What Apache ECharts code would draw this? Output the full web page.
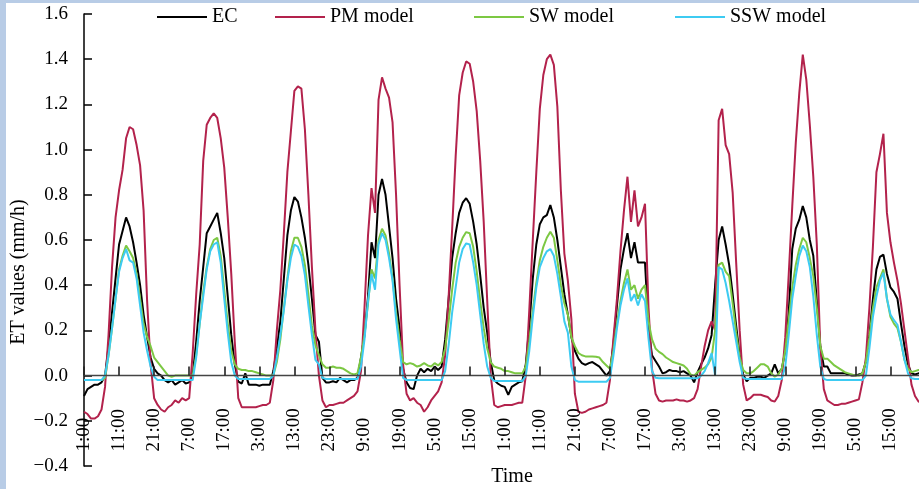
<!DOCTYPE html>
<html><head><meta charset="utf-8">
<script src="https://cdn.jsdelivr.net/npm/echarts@6/dist/echarts.min.js"></script>
<style>html,body{margin:0;padding:0;background:#fff}#c{width:919px;height:489px}</style>
</head><body><div id="c"></div>
<script>
// Hourly series starting at 1:00, 240 hours (10 days)
const startHour = 1;
const hourCount = 240;
const categories = Array.from({length: hourCount}, (_, i) => ((startHour + i) % 24) + ':00');

const seriesNames = ['EC', 'PM model', 'SW model', 'SSW model'];

const ecValues = [
-0.09,-0.06,-0.05,-0.04,-0.04,-0.03,0.0,0.13,0.28,0.43,0.58,0.64,0.70,0.66,0.59,0.50,0.40,0.27,0.17,0.08,0.03,0.01,0.0,-0.02,
-0.03,-0.02,-0.04,-0.03,-0.02,-0.035,-0.03,0.0,0.15,0.33,0.48,0.63,0.66,0.69,0.72,0.63,0.52,0.35,0.18,0.05,-0.027,-0.035,0.01,-0.04,
-0.04,-0.04,-0.045,-0.04,-0.04,-0.04,0.02,0.12,0.24,0.43,0.62,0.73,0.79,0.77,0.70,0.61,0.49,0.34,0.18,0.15,-0.01,-0.03,-0.03,-0.025,
-0.03,-0.01,-0.02,-0.03,-0.02,-0.02,-0.01,0.08,0.18,0.35,0.59,0.52,0.80,0.87,0.80,0.66,0.52,0.34,0.21,0.03,-0.03,-0.055,-0.06,0.0,
0.03,0.015,0.03,0.02,0.04,0.025,0.04,0.16,0.34,0.52,0.63,0.72,0.765,0.785,0.76,0.68,0.58,0.445,0.30,0.19,0.06,-0.02,-0.035,-0.045,
-0.05,-0.085,-0.05,-0.04,-0.03,-0.025,0.05,0.22,0.43,0.58,0.67,0.70,0.71,0.755,0.70,0.60,0.48,0.36,0.27,0.17,0.11,0.075,0.055,0.047,
0.055,0.06,0.05,0.04,0.02,0.0,0.02,0.14,0.31,0.47,0.56,0.63,0.52,0.59,0.50,0.50,0.50,0.21,0.09,0.065,0.04,0.01,0.015,0.025,
0.02,0.02,0.015,0.02,0.01,0.0,-0.03,0.015,0.05,0.08,0.12,0.18,0.40,0.60,0.66,0.58,0.49,0.36,0.22,0.09,0.005,-0.025,-0.01,-0.01,
-0.005,-0.005,-0.01,0.0,0.01,0.05,0.01,0.03,0.11,0.28,0.56,0.65,0.69,0.75,0.70,0.60,0.53,0.33,0.13,0.04,0.04,0.01,0.01,0.01,
0.01,0.01,0.005,0.0,0.0,0.005,0.01,0.06,0.18,0.34,0.47,0.525,0.535,0.45,0.39,0.37,0.34,0.23,0.13,0.05,0.01,0.005,0.01,0.01
];

const pmValues = [
-0.16,-0.17,-0.19,-0.19,-0.18,-0.15,-0.05,0.18,0.48,0.70,0.82,0.91,1.05,1.10,1.09,1.02,0.93,0.73,0.33,0.05,-0.10,-0.13,-0.15,-0.16,
-0.14,-0.13,-0.11,-0.12,-0.10,-0.11,-0.10,0.10,0.36,0.58,0.95,1.11,1.14,1.16,1.14,1.05,0.92,0.70,0.45,0.15,-0.10,-0.14,-0.14,-0.14,
-0.14,-0.14,-0.135,-0.13,-0.13,-0.12,-0.02,0.20,0.38,0.63,0.90,1.08,1.26,1.28,1.27,1.09,0.80,0.48,0.20,0.0,-0.11,-0.14,-0.13,-0.13,
-0.125,-0.12,-0.12,-0.11,-0.10,-0.09,-0.07,0.02,0.30,0.62,0.83,0.72,1.22,1.32,1.27,1.23,1.12,0.80,0.40,0.05,-0.08,-0.11,-0.10,-0.12,
-0.13,-0.16,-0.14,-0.11,-0.09,-0.07,-0.03,0.09,0.35,0.65,0.97,1.24,1.34,1.39,1.38,1.30,1.17,0.95,0.68,0.33,0.0,-0.13,-0.14,-0.135,
-0.13,-0.13,-0.13,-0.125,-0.12,-0.12,0.0,0.29,0.60,0.90,1.18,1.33,1.40,1.42,1.375,1.19,0.82,0.54,0.42,0.25,-0.08,-0.16,-0.165,-0.16,
-0.15,-0.145,-0.14,-0.135,-0.13,-0.12,-0.02,0.165,0.34,0.55,0.73,0.88,0.68,0.82,0.66,0.70,0.76,0.30,0.03,-0.08,-0.11,-0.115,-0.11,-0.11,
-0.11,-0.105,-0.11,-0.11,-0.115,-0.11,-0.10,-0.06,0.04,0.13,0.20,0.24,0.20,1.13,1.18,1.02,0.98,0.81,0.50,0.20,-0.04,-0.11,-0.10,-0.085,
-0.085,-0.085,-0.09,-0.095,-0.11,-0.115,-0.09,-0.02,0.17,0.45,0.75,1.03,1.25,1.42,1.31,1.11,0.88,0.58,0.12,-0.06,-0.11,-0.12,-0.13,-0.13,
-0.125,-0.125,-0.12,-0.115,-0.11,-0.105,-0.03,0.08,0.30,0.57,0.90,0.98,1.07,0.72,0.59,0.50,0.42,0.32,0.20,0.08,-0.04,-0.09,-0.115,-0.12
];

const swValues = [
-0.02,-0.02,-0.02,-0.02,-0.02,-0.02,-0.01,0.09,0.21,0.34,0.47,0.53,0.575,0.55,0.52,0.45,0.34,0.23,0.17,0.13,0.08,0.06,0.04,0.02,
0.0,-0.005,0.0,0.0,0.0,0.0,0.0,0.0,0.09,0.23,0.37,0.48,0.56,0.60,0.61,0.53,0.38,0.23,0.11,0.05,0.03,0.025,0.025,0.02,
0.02,0.015,0.01,0.005,0.0,0.0,0.0,0.06,0.16,0.30,0.43,0.55,0.61,0.61,0.57,0.49,0.36,0.22,0.135,0.09,0.05,0.035,0.035,0.04,
0.035,0.035,0.03,0.02,0.01,0.005,0.01,0.08,0.18,0.32,0.47,0.43,0.60,0.65,0.62,0.54,0.43,0.28,0.16,0.06,0.05,0.055,0.05,0.04,
0.045,0.055,0.045,0.04,0.055,0.045,0.06,0.12,0.24,0.38,0.50,0.57,0.61,0.635,0.63,0.57,0.46,0.33,0.21,0.12,0.06,0.04,0.035,0.03,
0.02,0.02,0.015,0.01,0.01,0.01,0.04,0.15,0.29,0.41,0.51,0.57,0.61,0.637,0.61,0.51,0.40,0.32,0.27,0.17,0.13,0.10,0.09,0.085,
0.085,0.085,0.083,0.08,0.06,0.045,0.03,0.11,0.23,0.33,0.41,0.47,0.38,0.40,0.34,0.38,0.40,0.24,0.16,0.12,0.105,0.095,0.08,0.07,
0.06,0.055,0.05,0.045,0.03,0.005,0.0,0.015,0.025,0.035,0.05,0.08,0.20,0.49,0.50,0.46,0.44,0.32,0.19,0.08,0.025,0.01,0.01,0.02,
0.035,0.05,0.05,0.04,0.01,-0.005,0.005,0.03,0.11,0.25,0.39,0.49,0.56,0.61,0.59,0.52,0.44,0.30,0.13,0.075,0.075,0.06,0.045,0.035,
0.025,0.015,0.01,0.005,0.0,0.0,0.01,0.06,0.17,0.30,0.39,0.43,0.47,0.34,0.26,0.23,0.21,0.15,0.07,0.03,0.015,0.02,0.025,0.025
];

const sswValues = [
-0.02,-0.02,-0.02,-0.02,-0.02,-0.02,0.0,0.09,0.21,0.34,0.46,0.52,0.56,0.51,0.50,0.43,0.31,0.19,0.11,0.04,-0.005,-0.02,-0.02,-0.02,
-0.02,-0.02,-0.02,-0.02,-0.02,-0.02,-0.02,-0.02,0.08,0.23,0.35,0.47,0.55,0.58,0.59,0.50,0.34,0.19,0.06,0.0,-0.015,-0.015,-0.015,-0.015,
-0.015,-0.015,-0.015,-0.015,-0.015,-0.015,0.0,0.08,0.18,0.29,0.42,0.52,0.58,0.57,0.53,0.445,0.31,0.18,0.07,0.05,-0.01,-0.015,-0.015,-0.015,
-0.015,-0.015,-0.015,-0.015,-0.015,-0.015,-0.015,0.04,0.16,0.33,0.45,0.38,0.58,0.63,0.60,0.52,0.42,0.25,0.12,-0.01,-0.02,-0.02,-0.02,-0.02,
-0.02,-0.02,-0.02,-0.02,-0.02,-0.02,-0.02,0.02,0.135,0.28,0.39,0.50,0.56,0.585,0.58,0.50,0.40,0.27,0.14,0.04,-0.01,-0.024,-0.024,-0.024,
-0.024,-0.024,-0.024,-0.024,-0.024,-0.024,0.0,0.11,0.26,0.39,0.48,0.52,0.55,0.56,0.53,0.45,0.35,0.24,0.19,0.04,-0.02,-0.027,-0.027,-0.027,
-0.027,-0.027,-0.027,-0.027,-0.027,-0.027,-0.01,0.09,0.21,0.31,0.38,0.43,0.33,0.36,0.31,0.36,0.33,0.165,0.02,-0.01,-0.012,-0.012,-0.012,-0.012,
-0.012,-0.012,-0.012,-0.012,-0.012,-0.012,-0.012,-0.012,0.0,0.02,0.055,0.10,0.0,0.48,0.47,0.41,0.33,0.24,0.15,0.06,-0.01,-0.015,-0.015,-0.015,
-0.015,-0.015,-0.015,-0.015,-0.015,-0.015,-0.015,-0.015,0.04,0.18,0.34,0.44,0.53,0.575,0.55,0.48,0.35,0.18,0.04,-0.015,-0.02,-0.02,-0.02,-0.02,
-0.02,-0.02,-0.02,-0.02,-0.02,-0.02,-0.02,0.0,0.12,0.26,0.35,0.42,0.455,0.34,0.27,0.245,0.225,0.15,0.07,0.01,-0.012,-0.015,-0.015,-0.015
];

const seriesColors = ['#000000', '#b3224c', '#7cc843', '#3dcbf2'];
const serif = '"Liberation Serif", "Times New Roman", serif';

// plot geometry: y axis from -0.4 (bottom) to 1.6 (top); the time axis sits on 0
const gridTop = 14, gridBottom = 23, chartH = 489;
const yMin = -0.4, yMax = 1.6;
const plotH = chartH - gridTop - gridBottom;
const zeroOffset = -plotH * (0 - yMin) / (yMax - yMin);

const chart = echarts.init(document.getElementById('c'), null, {renderer: 'canvas'});

function legendAt(name, left) {
  return {
    data: [name], left: left, top: 7, icon: 'rect', itemWidth: 50, itemHeight: 2,
    selectedMode: false, padding: 0,
    textStyle: {fontFamily: serif, fontSize: 20, color: '#000'}
  };
}

const allValues = [ecValues, pmValues, swValues, sswValues];

chart.setOption({
  animation: false,
  backgroundColor: '#ffffff',
  grid: {left: 84, right: -3, top: gridTop, bottom: gridBottom, containLabel: false, outerBoundsMode: 'none'},
  legend: [legendAt('EC', 157), legendAt('PM model', 275), legendAt('SW model', 474), legendAt('SSW model', 675)],
  xAxis: {
    type: 'category', data: categories, boundaryGap: false, position: 'bottom',
    offset: zeroOffset, z: 5,
    axisLine: {onZero: false, lineStyle: {color: '#444', width: 1.3}},
    axisTick: {show: true, inside: true, length: 9, interval: 9, lineStyle: {color: '#222', width: 1.6}},
    axisLabel: {interval: 9, rotate: 90, align: 'left', verticalAlign: 'middle', margin: 76, hideOverlap: false,
      fontFamily: serif, fontSize: 19, color: '#000'},
    splitLine: {show: false}
  },
  yAxis: {
    type: 'value', min: yMin, max: yMax, interval: 0.2,
    axisLine: {show: true, lineStyle: {color: '#000', width: 1.5}},
    axisTick: {show: true, inside: true, length: 8, lineStyle: {color: '#000', width: 1.5}},
    axisLabel: {margin: 16, fontFamily: serif, fontSize: 19, color: '#000',
      formatter: v => (v < -1e-9 ? '\u2212' : '') + Math.abs(v).toFixed(1)},
    splitLine: {show: false}
  },
  graphic: [
    {type: 'rect', left: 0, top: 0, z: -10, shape: {x: 0, y: 0, width: 6, height: 489}, style: {fill: '#b8cce6'}},
    {type: 'rect', left: 0, top: 0, z: -10, shape: {x: 0, y: 0, width: 919, height: 3}, style: {fill: '#b8cce6'}},
    {type: 'text', x: 19, y: 272, rotation: Math.PI / 2,
      style: {text: 'ET values (mm/h)', font: '20px ' + serif, fill: '#000',
        align: 'center', verticalAlign: 'middle', textAlign: 'center', textVerticalAlign: 'middle'}},
    {type: 'text', x: 512, y: 477,
      style: {text: 'Time', font: '20px ' + serif, fill: '#000',
        align: 'center', verticalAlign: 'middle', textAlign: 'center', textVerticalAlign: 'middle'}}
  ],
  series: seriesNames.map((name, i) => ({
    name: name, type: 'line', data: allValues[i],
    showSymbol: false, symbol: 'none', z: 2,
    lineStyle: {color: seriesColors[i], width: 2},
    itemStyle: {color: seriesColors[i]},
    emphasis: {disabled: true}
  }))
});
</script>
</body></html>
